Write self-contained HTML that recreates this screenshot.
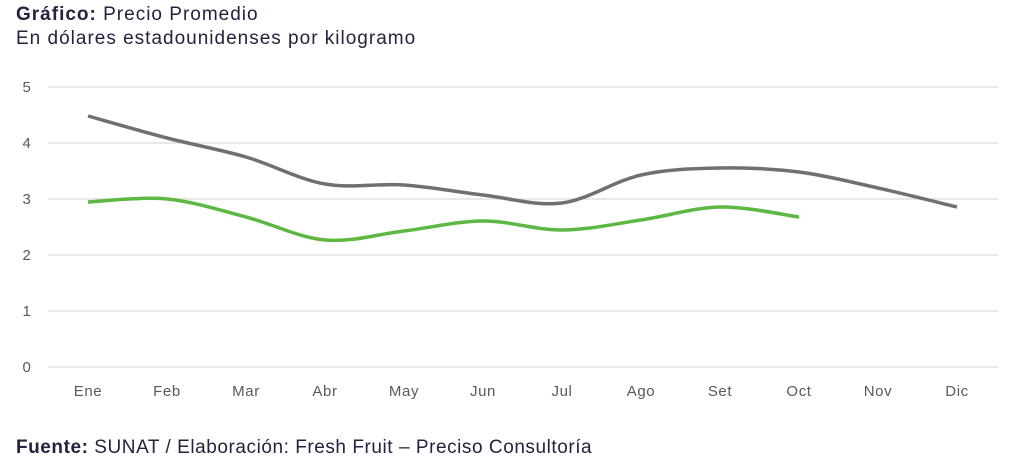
<!DOCTYPE html>
<html><head><meta charset="utf-8"><style>
body{margin:0;background:#fff;width:1024px;height:472px;overflow:hidden;font-family:"Liberation Sans",sans-serif}
.t{position:absolute;left:16px;color:#23233f;font-size:19px;letter-spacing:1px}
</style></head><body>
<div class="t" style="top:4px"><b>Gráfico:</b> Precio Promedio</div>
<div class="t" style="top:28px">En dólares estadounidenses por kilogramo</div>
<svg width="1024" height="472" style="position:absolute;left:0;top:0">
<g stroke="#d9d9d9" stroke-width="1.2">
<line x1="48" x2="998" y1="87" y2="87"/><line x1="48" x2="998" y1="143" y2="143"/>
<line x1="48" x2="998" y1="199" y2="199"/><line x1="48" x2="998" y1="255" y2="255"/>
<line x1="48" x2="998" y1="311" y2="311"/><line x1="48" x2="998" y1="367" y2="367"/>
</g>
<g fill="#595959" font-size="15" font-family="Liberation Sans,sans-serif" letter-spacing="0.6">
<text x="27" y="92" text-anchor="middle">5</text><text x="27" y="148" text-anchor="middle">4</text>
<text x="27" y="204" text-anchor="middle">3</text><text x="27" y="260" text-anchor="middle">2</text>
<text x="27" y="316" text-anchor="middle">1</text><text x="27" y="372" text-anchor="middle">0</text>
<g text-anchor="middle">
<text x="88" y="396">Ene</text><text x="167" y="396">Feb</text><text x="246" y="396">Mar</text>
<text x="325" y="396">Abr</text><text x="404" y="396">May</text><text x="483" y="396">Jun</text>
<text x="562" y="396">Jul</text><text x="641" y="396">Ago</text><text x="720" y="396">Set</text>
<text x="799" y="396">Oct</text><text x="878" y="396">Nov</text><text x="957" y="396">Dic</text>
</g></g>
<path id="g" fill="none" stroke="#707070" stroke-width="3.5"/>
<path id="v" fill="none" stroke="#5cb843" stroke-width="3.5"/>
<text x="16" y="453" fill="#23233f" font-size="19" letter-spacing="0.55" font-family="Liberation Sans,sans-serif"><tspan font-weight="bold">Fuente:</tspan> SUNAT / Elaboración: Fresh Fruit – Preciso Consultoría</text>
</svg>
<script>
function p(ys){var pts=ys.map((y,i)=>[88+79*i,y]);var d="M"+pts[0];
for(var i=0;i<pts.length-1;i++){var a=pts[i-1]||pts[i],b=pts[i],c=pts[i+1],e=pts[i+2]||c,k=6;
d+=" C"+(b[0]+(c[0]-a[0])/k)+","+(b[1]+(c[1]-a[1])/k)+" "+(c[0]-(e[0]-b[0])/k)+","+(c[1]-(e[1]-b[1])/k)+" "+c;}return d;}
document.getElementById('g').setAttribute('d',p([116,138,157,184,185,195,203,175,168,172,188,207]));
document.getElementById('v').setAttribute('d',p([202,199,217,240,231,221,230,220,207,217]));
</script>
</body></html>
